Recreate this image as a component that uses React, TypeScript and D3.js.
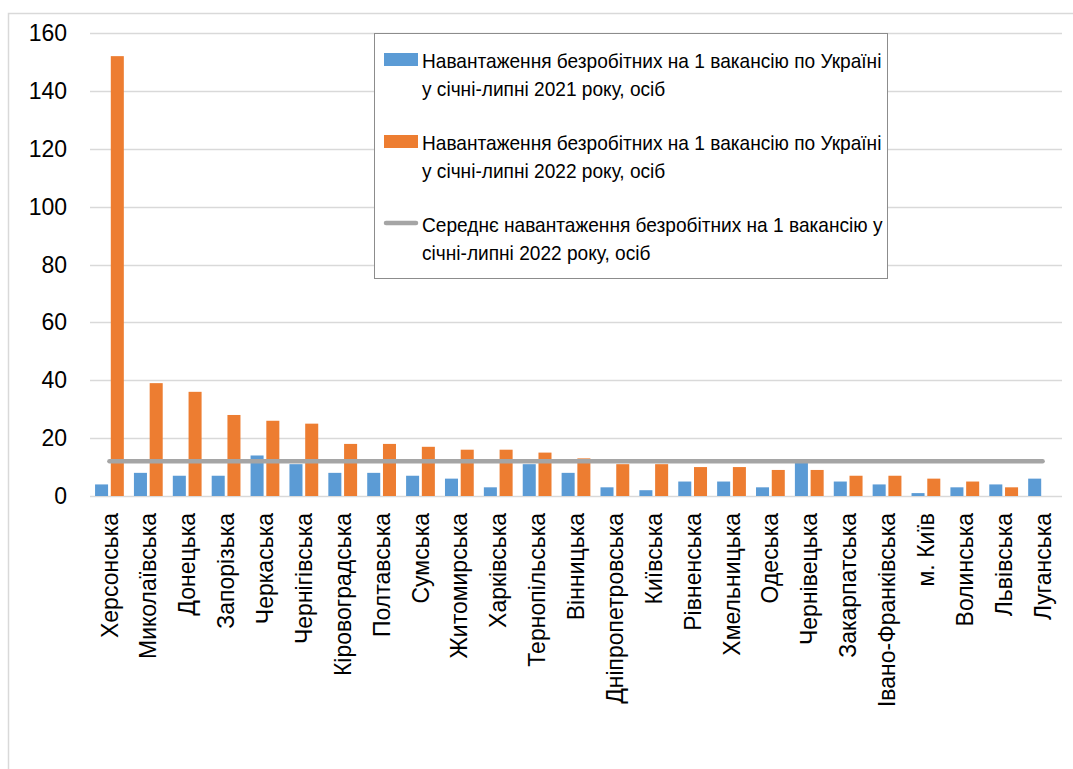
import React, { useEffect, useRef } from 'react';
import * as d3 from 'd3';

const regions = [
  'Херсонська', 'Миколаївська', 'Донецька', 'Запорізька', 'Черкаська',
  'Чернігівська', 'Кіровоградська', 'Полтавська', 'Сумська', 'Житомирська',
  'Харківська', 'Тернопільська', 'Вінницька', 'Дніпропетровська', 'Київська',
  'Рівненська', 'Хмельницька', 'Одеська', 'Чернівецька', 'Закарпатська',
  'Івано-Франківська', 'м. Київ', 'Волинська', 'Львівська', 'Луганська',
];

// навантаження у січні-липні 2021
const load2021 = [4, 8, 7, 7, 14, 11, 8, 8, 7, 6, 3, 11, 8, 3, 2, 5, 5, 3, 12, 5, 4, 1, 3, 4, 6];
// навантаження у січні-липні 2022
const load2022 = [152, 39, 36, 28, 26, 25, 18, 18, 17, 16, 16, 15, 13, 11, 11, 10, 10, 9, 9, 7, 7, 6, 5, 3, 0];
// середнє по Україні 2022
const avg2022 = 12;

const yTicks = [0, 20, 40, 60, 80, 100, 120, 140, 160];

const legendItems = [
  { kind: 'bar', color: '#5B9BD5', lines: ['Навантаження безробітних на 1 вакансію по Україні', 'у січні-липні 2021 року, осіб'] },
  { kind: 'bar', color: '#ED7D31', lines: ['Навантаження безробітних на 1 вакансію по Україні', 'у січні-липні 2022 року, осіб'] },
  { kind: 'line', color: '#A5A5A5', lines: ['Середнє навантаження безробітних на 1 вакансію у', 'січні-липні 2022 року, осіб'] },
];

const App: React.FC = () => {
  const ref = useRef<SVGSVGElement | null>(null);

  useEffect(() => {
    if (!ref.current) return;
    const svg = d3.select(ref.current);
    svg.selectAll('*').remove();

    const W = 1073, H = 769;
    const plot = { left: 90, right: 1062, top: 33, bottom: 496 };
    const font = '"Liberation Sans", Arial, sans-serif';

    svg.append('rect').attr('width', W).attr('height', H).attr('fill', '#fff');
    // chart frame (goes past the picture on the right and bottom)
    svg.append('rect')
      .attr('x', 8.5).attr('y', 13.5).attr('width', W + 20).attr('height', H + 20)
      .attr('fill', 'none').attr('stroke', '#d9d9d9').attr('stroke-width', 1.5);

    const x = d3.scaleBand<string>().domain(regions).range([plot.left, plot.right]);
    const y = d3.scaleLinear().domain([0, 160]).range([plot.bottom, plot.top]);

    const bw = x.bandwidth();
    const barW = bw * 0.335;
    const gap = bw * 0.07;

    // gridlines
    svg.append('g').selectAll('line').data(yTicks).enter().append('line')
      .attr('x1', plot.left).attr('x2', plot.right)
      .attr('y1', d => Math.round(y(d)) + 0.5).attr('y2', d => Math.round(y(d)) + 0.5)
      .attr('stroke', '#d9d9d9').attr('stroke-width', 1.5);

    // y labels
    svg.append('g').selectAll('text').data(yTicks).enter().append('text')
      .attr('x', 67).attr('y', d => y(d)).attr('dy', '0.35em')
      .attr('text-anchor', 'end').attr('font-family', font).attr('font-size', 23)
      .attr('fill', '#000').text(d => d);

    const bars = svg.append('g');
    bars.selectAll('rect.b21').data(regions).enter().append('rect')
      .attr('x', d => (x(d) as number) + bw / 2 - gap / 2 - barW)
      .attr('y', (d, i) => y(load2021[i]))
      .attr('width', barW)
      .attr('height', (d, i) => y(0) - y(load2021[i]))
      .attr('fill', '#5B9BD5');
    bars.selectAll('rect.b22').data(regions).enter().append('rect')
      .attr('x', d => (x(d) as number) + bw / 2 + gap / 2)
      .attr('y', (d, i) => y(load2022[i]))
      .attr('width', barW)
      .attr('height', (d, i) => y(0) - y(load2022[i]))
      .attr('fill', '#ED7D31');

    // average line
    const line = d3.line<string>()
      .x(d => (x(d) as number) + bw / 2)
      .y(() => y(avg2022));
    svg.append('path').datum(regions)
      .attr('d', line)
      .attr('fill', 'none').attr('stroke', '#A5A5A5')
      .attr('stroke-width', 4.5).attr('stroke-linecap', 'round');

    // category labels
    svg.append('g').selectAll('text').data(regions).enter().append('text')
      .attr('transform', d => `translate(${(x(d) as number) + bw / 2},513) rotate(-90)`)
      .attr('dy', '0.35em')
      .attr('text-anchor', 'end').attr('font-family', font).attr('font-size', 23)
      .attr('fill', '#000').text(d => d);

    // legend
    const lg = svg.append('g');
    lg.append('rect').attr('x', 374.5).attr('y', 33.5).attr('width', 513).attr('height', 245)
      .attr('fill', '#fff').attr('stroke', '#8c8c8c').attr('stroke-width', 1);
    const rowTop = [68, 150, 232];
    // legend text is a little condensed in the original
    const txt = lg.append('g').attr('transform', 'translate(422,0) scale(0.956,1)');
    legendItems.forEach((it, i) => {
      const base = rowTop[i];
      if (it.kind === 'bar') {
        lg.append('rect').attr('x', 384).attr('y', base - 15).attr('width', 34).attr('height', 13)
          .attr('fill', it.color);
      } else {
        lg.append('line').attr('x1', 386).attr('x2', 416).attr('y1', base - 9).attr('y2', base - 9)
          .attr('stroke', it.color).attr('stroke-width', 4.5).attr('stroke-linecap', 'round');
      }
      it.lines.forEach((t, j) => {
        txt.append('text').attr('x', 0).attr('y', base + j * 28)
          .attr('font-family', font).attr('font-size', 20).attr('fill', '#000').text(t);
      });
    });
  }, []);

  return (
    <svg ref={ref} width={1073} height={769}
      style={{ position: 'absolute', left: 0, top: 0, display: 'block' }} />
  );
};

export default App;
